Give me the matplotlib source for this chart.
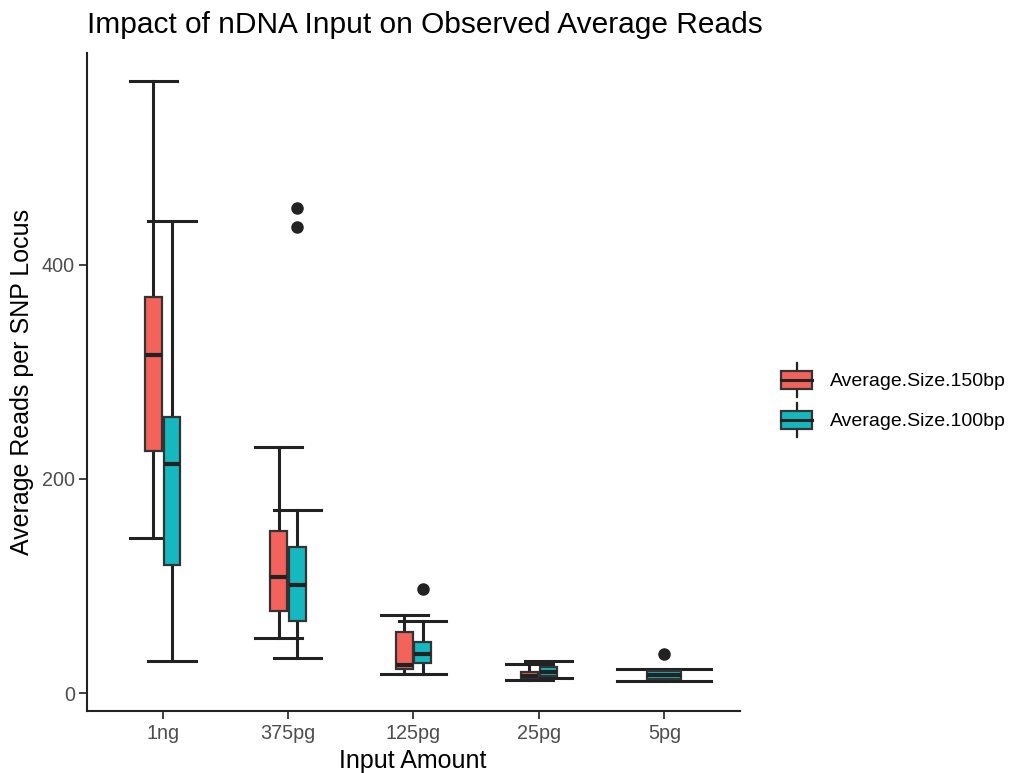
import numpy as np
import matplotlib
matplotlib.use("Agg")
import matplotlib.pyplot as plt
from matplotlib.patches import Rectangle
from matplotlib.lines import Line2D
from matplotlib.legend_handler import HandlerBase

plt.rcParams['font.family'] = ['Liberation Sans', 'DejaVu Sans']

categories = ['1ng', '375pg', '125pg', '25pg', '5pg']
series = ['Average.Size.150bp', 'Average.Size.100bp']
colors = ['#F4625C', '#14B8BE']

# five-number summaries (None = no data at that input)
lo_150 = [145, 51, 18, 12, None]
q1_150 = [226, 77, 22, 14, None]
med_150 = [316, 108, 26, 16, None]
q3_150 = [370, 151, 57, 20, None]
hi_150 = [572, 230, 73, 27, None]
out_150 = [[], [], [], [], []]

lo_100 = [30, 33, 18, 14, 11]
q1_100 = [120, 67, 28, 16, 13]
med_100 = [214, 101, 36, 20, 17]
q3_100 = [258, 136, 48, 24, 21]
hi_100 = [441, 171, 67, 30, 22]
out_100 = [[], [435, 453], [97], [], [36]]

summaries = [
    (lo_150, q1_150, med_150, q3_150, hi_150, out_150),
    (lo_100, q1_100, med_100, q3_100, hi_100, out_100),
]

edge = '#333333'

fig = plt.figure(figsize=(10.12, 7.73), dpi=100)
ax = fig.add_axes([0.0863, 0.0802, 0.6445, 0.8512])

for i, cat in enumerate(categories):
    x = i + 1
    present = [k for k in range(len(series)) if summaries[k][0][i] is not None]
    n = len(present)
    for j, k in enumerate(present):
        lo, q1, med, q3, hi, out = summaries[k]
        pos = x + (j - (n - 1) / 2) * 0.15
        stats = [dict(whislo=lo[i], q1=q1[i], med=med[i], q3=q3[i],
                      whishi=hi[i], fliers=out[i])]
        art = ax.bxp(stats, positions=[pos], widths=0.27 / n,
                     capwidths=0.75 / n, patch_artist=True,
                     boxprops=dict(facecolor=colors[k], edgecolor=edge, linewidth=1.6),
                     medianprops=dict(color='#222222', linewidth=3.0,
                                      solid_capstyle='butt'),
                     whiskerprops=dict(color='#222222', linewidth=2.2),
                     capprops=dict(color='#222222', linewidth=2.2),
                     flierprops=dict(marker='o', markerfacecolor='#222222',
                                     markeredgecolor='#222222', markersize=8))
        for a in art['whiskers'] + art['caps']:
            a.set_zorder(1)
        for a in art['boxes']:
            a.set_zorder(2)
        for a in art['medians'] + art['fliers']:
            a.set_zorder(3)

ax.set_xlim(0.4, len(categories) + 0.6)
ax.set_ylim(-16.8, 598)
ax.set_xticks(range(1, len(categories) + 1))
ax.set_xticklabels(categories)
ax.set_yticks([0, 200, 400])

for s in ['top', 'right']:
    ax.spines[s].set_visible(False)
for s in ['left', 'bottom']:
    ax.spines[s].set_linewidth(1.5)
    ax.spines[s].set_color('#222222')
ax.tick_params(axis='both', length=6, width=1.3, color='#333333',
               labelsize=14.2, labelcolor='#4D4D4D', pad=3)

fig.text(87 / 1012, 1 - 33.3 / 773, 'Impact of nDNA Input on Observed Average Reads',
         ha='left', va='baseline', fontsize=21.5, color='black')
fig.text(413 / 1012, 1 - 768 / 773, 'Input Amount', ha='center', va='baseline',
         fontsize=18, color='black')
fig.text(22 / 1012, 1 - 382 / 773, 'Average Reads per SNP Locus', ha='center',
         va='center', rotation=90, fontsize=18, color='black')


class BoxKey(HandlerBase):
    def create_artists(self, legend, orig_handle, xdescent, ydescent,
                       width, height, fontsize, trans):
        x0, y0 = -xdescent, -ydescent
        cx = x0 + width / 2
        b0, b1 = y0 + 0.23 * height, y0 + 0.77 * height
        wl = Line2D([cx, cx], [y0, y0 + height], color='#222222', lw=1.6,
                    transform=trans)
        box = Rectangle((x0, b0), width, b1 - b0, facecolor=orig_handle.get_facecolor(),
                        edgecolor=edge, lw=1.6, transform=trans)
        med = Line2D([x0, x0 + width], [y0 + height / 2] * 2, color='#222222',
                     lw=2.2, transform=trans)
        return [wl, box, med]


handles = [Rectangle((0, 0), 1, 1, facecolor=c) for c in colors]
fig.legend(handles, series, handler_map={Rectangle: BoxKey()},
           loc='center left', bbox_to_anchor=(781 / 1012, 1 - 400 / 773),
           frameon=False, fontsize=14, handlelength=1.6, handleheight=2.39,
           handletextpad=0.93, labelspacing=0.26, borderpad=0, borderaxespad=0)

fig.savefig('out.png', dpi=100)
